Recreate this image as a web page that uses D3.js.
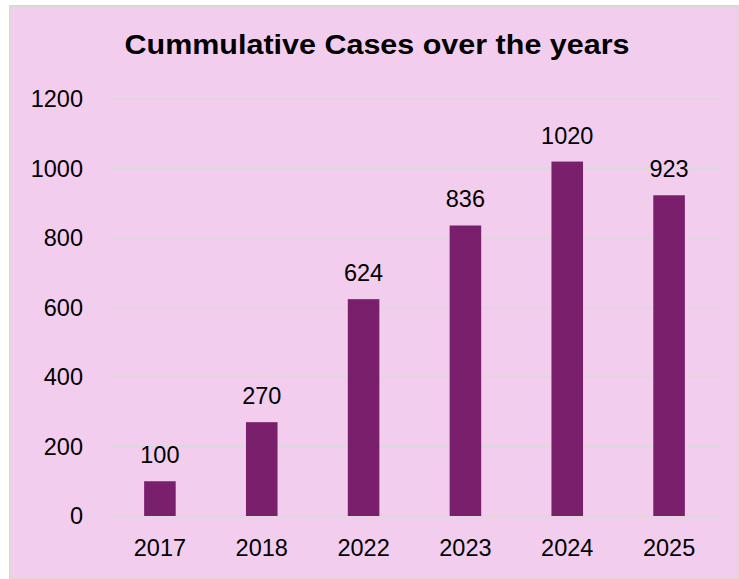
<!DOCTYPE html>
<html>
<head>
<meta charset="utf-8">
<script src="https://cdn.jsdelivr.net/npm/d3@7"></script>
<style>
  body { margin: 0; background: #fff; }
  svg { display: block; }
</style>
</head>
<body>
<svg id="chart" width="739" height="579"></svg>
<script>
// chart data
const years = ["2017", "2018", "2022", "2023", "2024", "2025"];
const cases = [100, 270, 624, 836, 1020, 923];
const yTicks = [0, 200, 400, 600, 800, 1000, 1200];

const svg = d3.select("#chart");
const width = 739, height = 579;
const margin = { top: 99, right: 19, bottom: 63, left: 109 };
const font = "Liberation Sans, Arial, sans-serif";

// panel background with thin grey border on top / left
svg.append("rect")
  .attr("x", 10).attr("y", 6)
  .attr("width", width - 11).attr("height", height - 6)
  .attr("fill", "#f2cdee")
  .attr("stroke", "#d9d9d9")
  .attr("stroke-width", 2);

const x = d3.scaleBand()
  .domain(years)
  .range([margin.left, width - margin.right])
  .paddingInner(0.69)
  .paddingOuter(0.345);

const y = d3.scaleLinear()
  .domain([0, 1200])
  .range([height - margin.bottom, margin.top]);

// gridlines
svg.append("g")
  .selectAll("line")
  .data(yTicks)
  .enter()
  .append("line")
  .attr("x1", margin.left)
  .attr("x2", width - margin.right)
  .attr("y1", d => y(d))
  .attr("y2", d => y(d))
  .attr("stroke", "#d9d9d9")
  .attr("stroke-width", 1.5);

// y axis labels
const yAxis = d3.axisLeft(y).tickValues(yTicks).tickFormat(d3.format("d")).tickSize(0).tickPadding(26);
svg.append("g")
  .attr("transform", `translate(${margin.left},0)`)
  .call(yAxis)
  .call(g => g.select(".domain").remove())
  .selectAll("text")
  .attr("font-family", font)
  .attr("font-size", 23.5)
  .attr("fill", "#000");

// x axis labels
const xAxis = d3.axisBottom(x).tickSize(0).tickPadding(23);
svg.append("g")
  .attr("transform", `translate(0,${height - margin.bottom})`)
  .call(xAxis)
  .call(g => g.select(".domain").remove())
  .selectAll("text")
  .attr("font-family", font)
  .attr("font-size", 23.5)
  .attr("fill", "#000");

// bars
svg.append("g")
  .selectAll("rect")
  .data(cases)
  .enter()
  .append("rect")
  .attr("x", (d, i) => x(years[i]))
  .attr("y", d => y(d))
  .attr("width", x.bandwidth())
  .attr("height", d => y(0) - y(d))
  .attr("fill", "#7a1f6b");

// value labels
svg.append("g")
  .selectAll("text")
  .data(cases)
  .enter()
  .append("text")
  .attr("x", (d, i) => x(years[i]) + x.bandwidth() / 2)
  .attr("y", d => y(d) - 18)
  .attr("text-anchor", "middle")
  .attr("font-family", font)
  .attr("font-size", 23.5)
  .attr("fill", "#000")
  .text(d => d);

// title
svg.append("text")
  .attr("x", 377)
  .attr("y", 54)
  .attr("text-anchor", "middle")
  .attr("font-family", font)
  .attr("font-weight", "bold")
  .attr("font-size", 27)
  .attr("textLength", 505)
  .attr("lengthAdjust", "spacingAndGlyphs")
  .attr("fill", "#000")
  .text("Cummulative Cases over the years");
</script>
</body>
</html>
